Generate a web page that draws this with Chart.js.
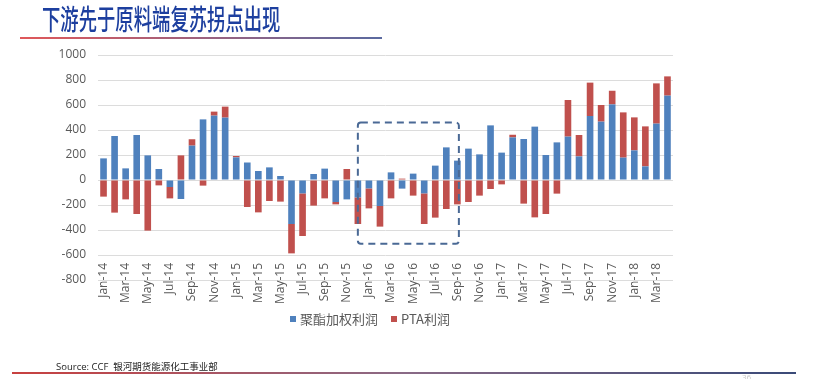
<!DOCTYPE html>
<html>
<head>
<meta charset="utf-8">
<script src="https://cdn.jsdelivr.net/npm/chart.js@4.4.1/dist/chart.umd.min.js"></script>
<style>
html,body{margin:0;padding:0;background:#fff;width:824px;height:379px;overflow:hidden;}
#wrap{position:relative;width:824px;height:379px;}
#c{position:absolute;left:0;top:0;}
.title{position:absolute;left:42px;top:-1px;font-family:"Noto Sans CJK SC";font-weight:500;font-size:28px;line-height:38px;color:#1d3f9f;transform:scaleX(0.655);transform-origin:left top;white-space:nowrap;}
.tline{position:absolute;left:20px;top:37px;width:362px;height:2px;background:linear-gradient(to right,#e0585a,#5a6aa0);}
.legend{position:absolute;left:290px;top:309px;display:flex;align-items:center;font-family:"Noto Sans CJK SC";font-size:13px;color:#595959;white-space:nowrap;}
.legend .sw{display:inline-block;width:6px;height:6px;margin-right:4px;}
.legend .item{display:flex;align-items:center;margin-right:13px;}
.source{position:absolute;left:56px;top:359px;font-family:"Open Sans","Noto Sans CJK SC";font-size:9.5px;color:#222;white-space:nowrap;}
.bline{position:absolute;left:12px;top:372px;width:784px;height:2px;background:linear-gradient(to right,#c8403f,#8a6a86 50%,#3a4a78);}
.pnum{position:absolute;left:742px;top:371px;font-family:"Open Sans";font-size:8px;color:#c8c8c8;}
</style>
</head>
<body>
<div id="wrap">
<canvas id="c" width="824" height="379"></canvas>
<div class="title">下游先于原料端复苏拐点出现</div>
<div class="tline"></div>
<div class="legend" id="legend"></div>
<div class="source">Source: CCF&nbsp; 银河期货能源化工事业部</div>
<div class="bline"></div>
<div class="pnum">36</div>
</div>
<script>
const categories = [
 'Jan-14','Feb-14','Mar-14','Apr-14','May-14','Jun-14','Jul-14','Aug-14','Sep-14','Oct-14','Nov-14','Dec-14',
 'Jan-15','Feb-15','Mar-15','Apr-15','May-15','Jun-15','Jul-15','Aug-15','Sep-15','Oct-15','Nov-15','Dec-15',
 'Jan-16','Feb-16','Mar-16','Apr-16','May-16','Jun-16','Jul-16','Aug-16','Sep-16','Oct-16','Nov-16','Dec-16',
 'Jan-17','Feb-17','Mar-17','Apr-17','May-17','Jun-17','Jul-17','Aug-17','Sep-17','Oct-17','Nov-17','Dec-17',
 'Jan-18','Feb-18','Mar-18','Apr-18'
];
const polyesterProfit = [
 173,352,93,360,197,88,-56,-152,275,485,515,499,
 181,140,72,101,32,-352,-107,48,91,-176,-155,-139,
 -67,-208,61,-69,51,-107,115,261,155,251,205,437,
 219,341,328,427,200,301,347,189,512,467,605,179,
 237,109,451,675
];
const ptaProfit = [
 -133,-261,-155,-272,-405,-43,-91,197,51,-45,32,88,
 11,-216,-259,-168,-173,-235,-341,-205,-147,-19,88,-213,
 -160,-165,-147,11,-125,-245,-301,-232,-195,-176,-125,-72,
 -35,21,-189,-299,-272,-109,293,171,267,133,109,362,
 264,320,322,154
];
const seriesNames = ['聚酯加权利润','PTA利润'];
const seriesColors = ['#4F81BD','#C0504D'];
const yMin = -800, yMax = 1000, yStep = 200;
const highlightFrom = 'Dec-15', highlightTo = 'Sep-16';
const highlightTop = 460, highlightBottom = -510;

const boxPlugin = {
  id:'highlightBox',
  afterDatasetsDraw(chart){
    const ctx = chart.ctx, x = chart.scales.x, y = chart.scales.y;
    const l = x.getPixelForValue(categories.indexOf(highlightFrom));
    const r = x.getPixelForValue(categories.indexOf(highlightTo)) + 1.5;
    const t = y.getPixelForValue(highlightTop);
    const b = y.getPixelForValue(highlightBottom);
    ctx.save();
    ctx.setLineDash([7,5]);
    ctx.lineWidth = 2;
    ctx.strokeStyle = '#4a6995';
    ctx.beginPath();
    if (ctx.roundRect) ctx.roundRect(l,t,r-l,b-t,3); else ctx.rect(l,t,r-l,b-t);
    ctx.stroke();
    ctx.restore();
  }
};

const lg = document.getElementById('legend');
seriesNames.forEach((n,i)=>{
  const it = document.createElement('span'); it.className='item';
  const sw = document.createElement('span'); sw.className='sw'; sw.style.background=seriesColors[i];
  const tx = document.createElement('span'); tx.textContent=n;
  it.appendChild(sw); it.appendChild(tx); lg.appendChild(it);
});

new Chart(document.getElementById('c'), {
  type:'bar',
  data:{
    labels:categories,
    datasets:[
      {label:seriesNames[0], data:polyesterProfit, backgroundColor:seriesColors[0], barPercentage:0.6, categoryPercentage:1.0},
      {label:seriesNames[1], data:ptaProfit, backgroundColor:seriesColors[1], barPercentage:0.6, categoryPercentage:1.0}
    ]
  },
  options:{
    responsive:false,
    animation:false,
    devicePixelRatio:1,
    layout:{padding:{left:0,right:151,top:55,bottom:98}},
    plugins:{legend:{display:false},tooltip:{enabled:false}},
    scales:{
      x:{
        stacked:true,
        grid:{display:false,drawTicks:false},
        border:{display:false},
        ticks:{
          autoSkip:false,maxRotation:90,minRotation:90,mirror:true,padding:17,
          color:'#595959',font:{family:'Open Sans',size:12,lineHeight:0},
          callback:(v,i)=> i%2===0 ? categories[i] : ''
        },
        afterFit:(s)=>{s.height=1;}
      },
      y:{
        stacked:true,min:yMin,max:yMax,
        ticks:{stepSize:yStep,color:'#595959',font:{family:'Open Sans',size:12},padding:12,
          callback:(v)=> String(v)},
        grid:{color:'#dcdcdc',drawTicks:false,lineWidth:1},
        border:{display:false},
        afterFit:(s)=>{s.width=98;}
      }
    }
  },
  plugins:[boxPlugin]
});
</script>
</body>
</html>
